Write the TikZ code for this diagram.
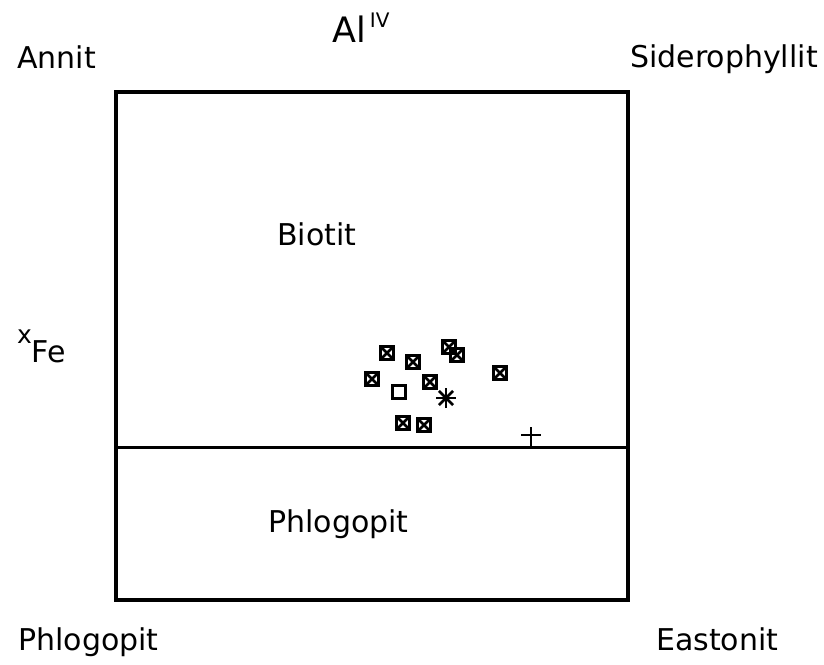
\documentclass[tikz,border=0pt]{standalone}
\usepackage{fontspec}
\setmainfont{DejaVu Sans}

\begin{document}
\begin{tikzpicture}[x=1pt,y=-1pt]
        \tikzstyle{every node}=[font=\fontsize{30}{36}\selectfont, inner sep=0pt, anchor=base west]
        \tikzstyle{probe}=[draw, line width=3.6pt, minimum size=13pt, inner sep=0pt, anchor=center,
            path picture={\draw[line width=2.8pt]
                (path picture bounding box.south west) -- (path picture bounding box.north east)
                (path picture bounding box.north west) -- (path picture bounding box.south east);}]
        \tikzstyle{plainprobe}=[draw, line width=3.4pt, minimum size=13pt, inner sep=0pt, anchor=center]
        \useasboundingbox (0,0) rectangle (824,664);

        % field
        \draw[line width=3.5pt] (116,92) rectangle (628,600);
        \coordinate (divl) at (116,447);
        \coordinate (divr) at (628,447);
        \draw[line width=3pt] (divl) -- (divr);

        % corners and axes
        \node (annit) at (17,68) {Annit};
        \node (sidero) at (630,67) {Siderophyllit};
        \node (al) at (332,42) {\fontsize{35}{40}\selectfont Al\hspace{4pt}\raisebox{15pt}{\fontsize{20}{24}\selectfont IV}};
        \node (xfe) at (17,343) {{\fontsize{25}{28}\selectfont x}\raisebox{-19pt}{Fe}};
        \node (phlogB) at (18,650) {Phlogopit};
        \node (easton) at (656,650) {Eastonit};

        % fields
        \node (biotit) at (277,245) {Biotit};
        \node (phlogF) at (268,532) {Phlogopit};

        % analyses
        \node[probe] (p1) at (387,353) {};
        \node[probe] (p2) at (413,362) {};
        \node[probe] (p3) at (449,347) {};
        \node[probe] (p4) at (457,355) {};
        \node[probe] (p5) at (372,379) {};
        \node[probe] (p6) at (430,382) {};
        \node[probe] (p7) at (500,373) {};
        \node[probe] (p8) at (403,423) {};
        \node[probe] (p9) at (424,425) {};
        \node[plainprobe] (q1) at (399,392) {};

        \coordinate (ast) at (446,398);
        \foreach \a in {0,45,90,135}
            \draw[line width=2.8pt, shift={(ast)}, rotate=\a] (-10,0) -- (10,0);

        \coordinate (plus) at (531,435);
        \draw[line width=2.8pt] (plus) ++(-10,0) -- ++(20,0);
        \draw[line width=2.8pt] (plus) ++(0,-8) -- ++(0,20);
    \end{tikzpicture}
\end{document}
